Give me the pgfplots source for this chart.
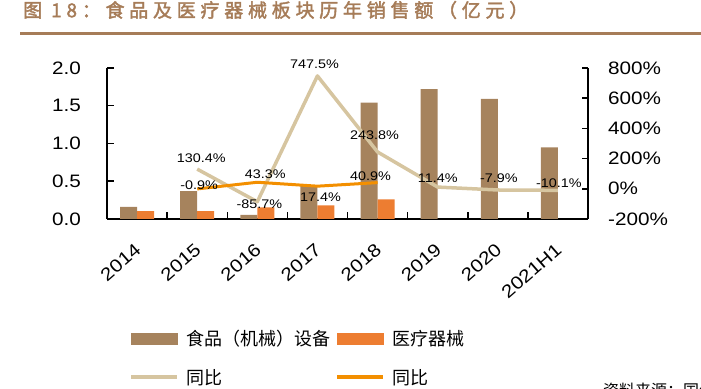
\documentclass[border=0pt]{standalone}
\usepackage{fontspec}
\setmainfont{Liberation Sans}
\newfontfamily\numfont[FakeStretch=1.15]{Liberation Sans}
\newfontfamily\cjk{Noto Sans CJK SC}
\newfontfamily\cjktitle[LetterSpace=25,AutoFakeBold=2]{Noto Sans CJK SC}
\usepackage{pgfplots}
\usepackage{pgfplotstable}
\pgfplotsset{compat=1.18}

\definecolor{barbrown}{RGB}{166,131,93}
\definecolor{barorange}{RGB}{237,125,49}
\definecolor{linebeige}{RGB}{214,197,160}
\definecolor{lineorange}{RGB}{243,143,0}
\definecolor{titlebrown}{RGB}{166,124,88}

% sales (100 million yuan)
\pgfplotstableread{
x y
0 0.16
1 0.37
2 0.055
3 0.45
4 1.54
5 1.72
6 1.59
7 0.95
}\foodsales
\pgfplotstableread{
x y
0 0.105
1 0.105
2 0.155
3 0.18
4 0.26
}\medsales
% year-on-year growth (%), with label offsets
\pgfplotstableread{
x y dx dy
1 130.4 4 11
2 -85.7 2 -2
3 747.5 -3 12
4 243.8 -3 17
5 11.4 0 9
6 -7.9 1 12
7 -10.1 1 7
}\foodyoy
\pgfplotstableread{
x y dx dy
1 -0.9 2 4
2 43.3 8 8
3 17.4 3 -11
4 40.9 -7 6
}\medyoy

\begin{document}
\begin{tikzpicture}
\path[use as bounding box] (0,0) rectangle (701pt,388pt);
\node[anchor=west, inner sep=0pt, text=titlebrown, font=\cjktitle\bfseries\fontsize{19}{19}\selectfont] at (23pt,378pt) {图 18：食品及医疗器械板块历年销售额（亿元）};
\draw[titlebrown, line width=2.3pt] (20pt,354.5pt) -- (701pt,354.5pt);

\begin{axis}[
  at={(107pt,169pt)}, anchor=south west, scale only axis,
  width=481pt, height=151pt,
  xmin=-0.5, xmax=7.5, ymin=0, ymax=2,
  axis x line*=bottom, axis y line*=left,
  axis line style={line width=1.5pt, black, -},
  ybar=0pt, bar width=17pt,
  xtick={0,...,7},
  xticklabels={2014,2015,2016,2017,2018,2019,2020,2021H1},
  major x tick style={draw=none},
  minor xtick={0.5,1.5,...,6.5},
  minor tick length=7pt,
  major tick length=7pt,
  tick align=inside,
  minor x tick style={line width=1.5pt, black},
  ytick={0,0.5,...,2},
  ytick style={line width=1.5pt, black},
  /pgf/number format/assume math mode=true,
  tick label style={font=\numfont\fontsize{18}{18}\selectfont},
  yticklabel style={/pgf/number format/fixed, /pgf/number format/fixed zerofill, /pgf/number format/precision=1, inner sep=0pt, xshift=-26pt},
  xticklabel style={inner sep=0pt, xshift=1pt, yshift=-28pt, rotate=41, anchor=east},
]
\addplot[fill=barbrown, draw=none] table[x=x,y=y] {\foodsales};
\addplot[fill=barorange, draw=none] table[x=x,y=y] {\medsales};
\end{axis}

\begin{axis}[
  at={(107pt,169pt)}, anchor=south west, scale only axis,
  width=481pt, height=151pt,
  xmin=-0.5, xmax=7.5, ymin=-200, ymax=800,
  axis y line*=right, axis x line=none,
  axis line style={line width=1.5pt, black, -},
  ytick={-200,0,...,800},
  yticklabel={\pgfmathprintnumber{\tick}\%},
  major tick length=6pt, tick align=inside,
  ytick style={line width=1.5pt, black},
  /pgf/number format/assume math mode=true,
  yticklabel style={font=\numfont\fontsize{18}{18}\selectfont, inner sep=0pt, xshift=20pt},
  clip=false,
  legend columns=2,
  legend cell align=left,
  legend style={at={(0.0457,-0.735)}, anchor=north west, draw=none, fill=none,
    inner sep=0pt, font=\cjk\fontsize{18}{18}\selectfont,
    nodes={inner sep=0pt, anchor=west},
    /tikz/every odd column/.append style={column sep=7pt},
    /tikz/every even column/.append style={column sep=5pt},
    row sep=22pt},
]
\addlegendimage{legend image code/.code={\fill[barbrown] (0pt,-5.5pt) rectangle (46pt,5.5pt);}}
\addlegendentry{食品（机械）设备}
\addlegendimage{legend image code/.code={\fill[barorange] (0pt,-5.5pt) rectangle (46pt,5.5pt);}}
\addlegendentry{医疗器械}
\addlegendimage{legend image code/.code={\draw[linebeige, line width=4pt] (0pt,0pt) -- (46pt,0pt);}}
\addlegendentry{同比}
\addlegendimage{legend image code/.code={\draw[lineorange, line width=4pt] (0pt,0pt) -- (46pt,0pt);}}
\addlegendentry{同比}

\addplot[forget plot, linebeige, line width=3.5pt, line join=round, mark=none,
  visualization depends on={\thisrow{dx} \as \labdx},
  visualization depends on={\thisrow{dy} \as \labdy},
  point meta=y,
  nodes near coords={\pgfmathprintnumber[fixed,fixed zerofill,precision=1]{\pgfplotspointmeta}\%},
  every node near coord/.append style={font=\numfont\fontsize{12.5}{12.5}\selectfont, text=black, anchor=center, inner sep=0pt, xshift=\labdx pt, yshift=\labdy pt}]
  table[x=x,y=y] {\foodyoy};
\addplot[forget plot, lineorange, line width=3pt, line join=round, mark=none,
  visualization depends on={\thisrow{dx} \as \labdx},
  visualization depends on={\thisrow{dy} \as \labdy},
  point meta=y,
  nodes near coords={\pgfmathprintnumber[fixed,fixed zerofill,precision=1]{\pgfplotspointmeta}\%},
  every node near coord/.append style={font=\numfont\fontsize{12.5}{12.5}\selectfont, text=black, anchor=center, inner sep=0pt, xshift=\labdx pt, yshift=\labdy pt}]
  table[x=x,y=y] {\medyoy};
\end{axis}

\node[anchor=north west, inner sep=0pt, font=\cjk\fontsize{16}{16}\selectfont] at (603pt,5pt) {资料来源：国信证券经济研究所整理};
\end{tikzpicture}
\end{document}
